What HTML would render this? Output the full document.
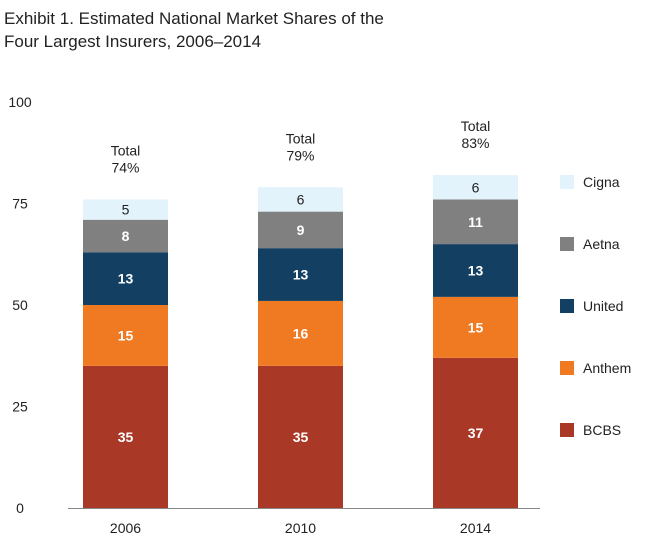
<!DOCTYPE html>
<html><head><meta charset="utf-8"><style>
body{margin:0;background:#fff;font-family:"Liberation Sans",sans-serif;}
svg text{font-family:"Liberation Sans",sans-serif;}
</style></head><body>
<svg id="chart" width="655" height="543" viewBox="0 0 655 543" xmlns="http://www.w3.org/2000/svg">
<text x="4" y="24" font-size="17" fill="#222">Exhibit 1. Estimated National Market Shares of the</text>
<text x="4" y="47" font-size="17" fill="#222">Four Largest Insurers, 2006–2014</text>
<g id="plot"></g>
</svg>
<script>
const years = ["2006","2010","2014"];
const seriesNames = ["BCBS","Anthem","United","Aetna","Cigna"];
const bcbs = [35,35,37];
const anthem = [15,16,15];
const united = [13,13,13];
const aetna = [8,9,11];
const cigna = [5,6,6];
const totals = ["74%","79%","83%"];
const yTicks = [0,25,50,75,100];
const colors = ["#a93826","#f07a22","#123f62","#808080","#e3f3fb"];
const labelColors = ["#fff","#fff","#fff","#fff","#222"];
const labelWeights = ["bold","bold","bold","bold","normal"];
const series = [bcbs,anthem,united,aetna,cigna];
const svgNS="http://www.w3.org/2000/svg";
const g=document.getElementById('plot');
const y0=508, pxPer=4.06;
function yS(v){return y0-v*pxPer;}
function xS(i){return 83+i*175;}
const bw=85;
function mk(tag,attrs,txt){const e=document.createElementNS(svgNS,tag);for(const k in attrs)e.setAttribute(k,attrs[k]);if(txt!==undefined)e.textContent=txt;g.appendChild(e);return e;}
yTicks.forEach(t=>{
  const e=mk('text',{x:20,y:yS(t)+5,'font-size':14,fill:'#222','text-anchor':'middle'},String(t));
  
  
});
years.forEach((yr,i)=>{
  let cum=0;
  series.forEach((s,k)=>{
    const v=s[i];
    const r=mk('rect',{x:xS(i),y:yS(cum+v),width:bw,height:v*pxPer,fill:colors[k]});
    
    
    const t=mk('text',{x:xS(i)+bw/2,y:yS(cum+v/2)+5,'font-size':14,'font-weight':labelWeights[k],fill:labelColors[k],'text-anchor':'middle'},String(v));
    
    
    cum+=v;
  });
  const top=yS(cum);
  const a=mk('text',{x:xS(i)+bw/2,y:top-44,'font-size':14,fill:'#222','text-anchor':'middle'},'Total');
  
  
  const b=mk('text',{x:xS(i)+bw/2,y:top-27,'font-size':14,fill:'#222','text-anchor':'middle'},totals[i]);
  
  
  const x=mk('text',{x:xS(i)+bw/2,y:533,'font-size':14,fill:'#222','text-anchor':'middle'},yr);
  
  
});
const axis=mk('line',{x1:68,x2:540,y1:y0+0.5,y2:y0+0.5,stroke:'#888','stroke-width':1});


const legendY=[430,368,306,244,182];
seriesNames.forEach((n,k)=>{
  const r=mk('rect',{x:560,y:legendY[k]-7,width:14,height:14,fill:colors[k]});
  
  
  const t=mk('text',{x:583,y:legendY[k]+5,'font-size':14,fill:'#222'},n);
  
  
});
</script>
</body></html>
